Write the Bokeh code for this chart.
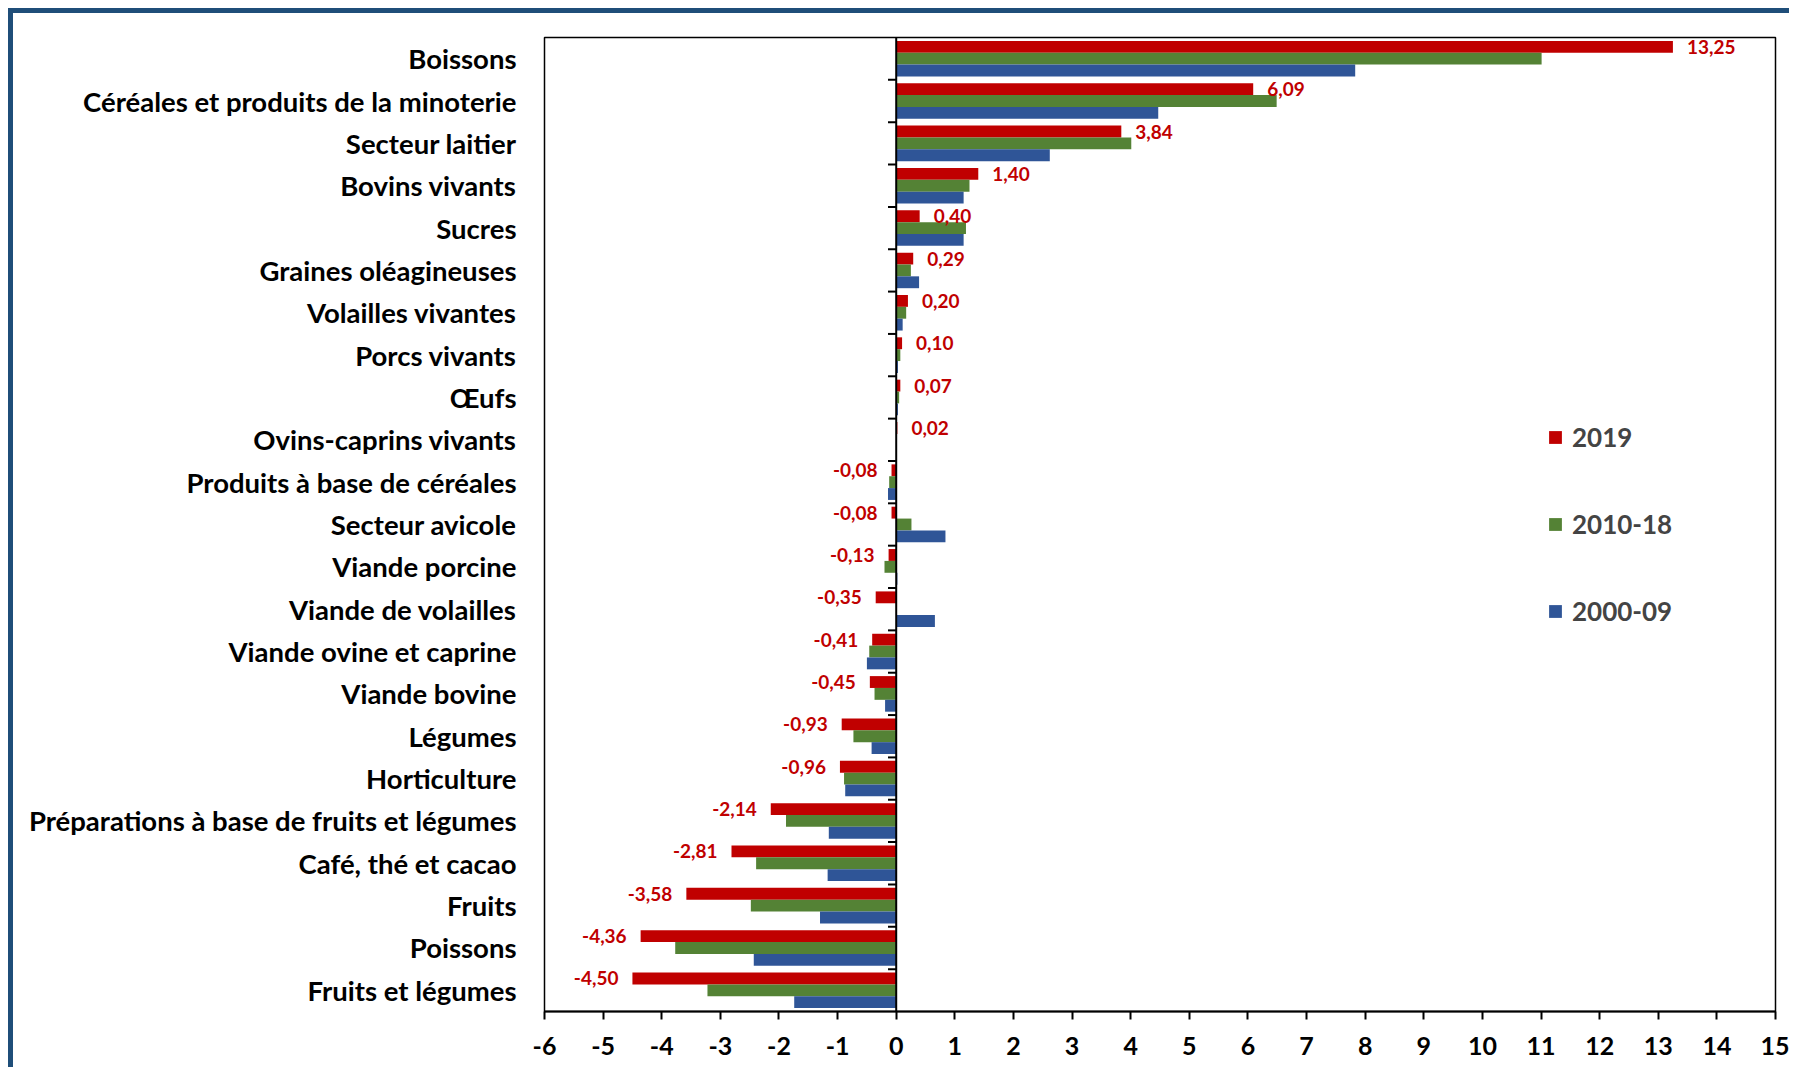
from bokeh.plotting import figure
from bokeh.models import (Range1d, FixedTicker, Span, ColumnDataSource, Legend, LegendItem)
from bokeh.core.properties import value
from bokeh.embed import file_html
from bokeh.resources import INLINE

categories = ["Boissons", "Céréales et produits de la minoterie", "Secteur laitier",
              "Bovins vivants", "Sucres", "Graines oléagineuses", "Volailles vivantes",
              "Porcs vivants", "Œufs", "Ovins-caprins vivants", "Produits à base de céréales",
              "Secteur avicole", "Viande porcine", "Viande de volailles",
              "Viande ovine et caprine", "Viande bovine", "Légumes", "Horticulture",
              "Préparations à base de fruits et légumes", "Café, thé et cacao", "Fruits",
              "Poissons", "Fruits et légumes"]

v2019 = [13.25, 6.09, 3.84, 1.40, 0.40, 0.29, 0.20, 0.10, 0.07, 0.02, -0.08, -0.08, -0.13,
         -0.35, -0.41, -0.45, -0.93, -0.96, -2.14, -2.81, -3.58, -4.36, -4.50]
v2010_18 = [11.01, 6.49, 4.01, 1.25, 1.19, 0.25, 0.17, 0.07, 0.05, 0.0, -0.12, 0.26, -0.20,
            0.0, -0.46, -0.37, -0.73, -0.89, -1.88, -2.39, -2.48, -3.77, -3.22]
v2000_09 = [7.83, 4.47, 2.62, 1.15, 1.15, 0.39, 0.11, 0.03, 0.03, 0.01, -0.14, 0.84, 0.02,
            0.66, -0.50, -0.19, -0.42, -0.87, -1.15, -1.17, -1.30, -2.43, -1.74]

series_names = ["2019", "2010-18", "2000-09"]
colors = ["#C00000", "#548235", "#2F5597"]
x_ticks = list(range(-6, 16))

FONT = "Lato"
n = len(categories)
idx = list(range(n))
bar_h = 0.28
offsets = [-bar_h, 0.0, bar_h]

p = figure(width=1781, height=1059, output_backend="svg", toolbar_location=None,
           x_range=Range1d(-6, 15), y_range=Range1d(n - 0.5, -0.5),
           min_border_left=531, min_border_right=19, min_border_top=24, min_border_bottom=61)
p.styles = {"border-left": "5px solid #1F4E79", "border-top": "5px solid #1F4E79",
            "margin-left": "8px", "margin-top": "8px"}
p.xgrid.visible = False
p.ygrid.visible = False
p.outline_line_color = "black"
p.outline_line_width = 1.5
p.background_fill_color = "white"
p.border_fill_color = "white"

renderers = []
for vals, off, col in zip([v2019, v2010_18, v2000_09], offsets, colors):
    src = ColumnDataSource(dict(y=[i + off for i in idx], right=vals))
    r = p.hbar(y="y", left=0, right="right", height=bar_h, source=src,
               fill_color=col, line_color=None)
    renderers.append(r)

# zero line
p.add_layout(Span(location=0, dimension="height", line_color="black", line_width=2))

# category tick marks on the zero axis (at category boundaries)
bounds = [i - 0.5 for i in idx[1:]]
p.segment(x0=[-0.14] * len(bounds), x1=[0] * len(bounds), y0=bounds, y1=bounds,
          line_color="black", line_width=2)

# data labels for 2019
lab_src = ColumnDataSource(dict(
    x=v2019,
    y=[i + offsets[0] for i in idx],
    t=[f"{v:.2f}".replace(".", ",") for v in v2019],
    align=["left" if v >= 0 else "right" for v in v2019],
    xo=[14 if v >= 0 else -14 for v in v2019],
))
p.text(x="x", y="y", text="t", source=lab_src, text_align="align", x_offset="xo",
       text_baseline="middle", text_color="#C00000", text_font=value(FONT),
       text_font_style="bold", text_font_size="19px")

# axes
p.xaxis.ticker = FixedTicker(ticks=x_ticks)
p.xaxis.major_label_overrides = {t: str(t) for t in x_ticks}
p.xaxis.axis_line_color = "black"
p.xaxis.axis_line_width = 2
p.xaxis.major_tick_out = 8
p.xaxis.major_tick_in = 0
p.xaxis.major_tick_line_width = 2
p.xaxis.minor_tick_line_color = None
p.xaxis.major_label_standoff = 17
p.xaxis.major_label_text_font = FONT
p.xaxis.major_label_text_font_style = "bold"
p.xaxis.major_label_text_font_size = "25px"
p.xaxis.major_label_text_color = "black"

p.yaxis.ticker = FixedTicker(ticks=idx)
p.yaxis.major_label_overrides = {i: c for i, c in zip(idx, categories)}
p.yaxis.axis_line_color = None
p.yaxis.major_tick_line_color = None
p.yaxis.minor_tick_line_color = None
p.yaxis.major_tick_out = 0
p.yaxis.major_tick_in = 0
p.yaxis.major_label_standoff = 28
p.yaxis.major_label_text_font = FONT
p.yaxis.major_label_text_font_style = "bold"
p.yaxis.major_label_text_font_size = "27.5px"
p.yaxis.major_label_text_color = "black"

legend = Legend(items=[LegendItem(label=nm, renderers=[r]) for nm, r in zip(series_names, renderers)],
                location=(1003, 384), padding=0, margin=0, border_line_color=None,
                background_fill_alpha=0, glyph_width=16, glyph_height=16, label_height=32,
                spacing=55, label_standoff=9, label_text_font=FONT,
                label_text_font_style="bold", label_text_font_size="26px")
p.add_layout(legend)

open("out.html", "w").write(file_html(p, INLINE))
